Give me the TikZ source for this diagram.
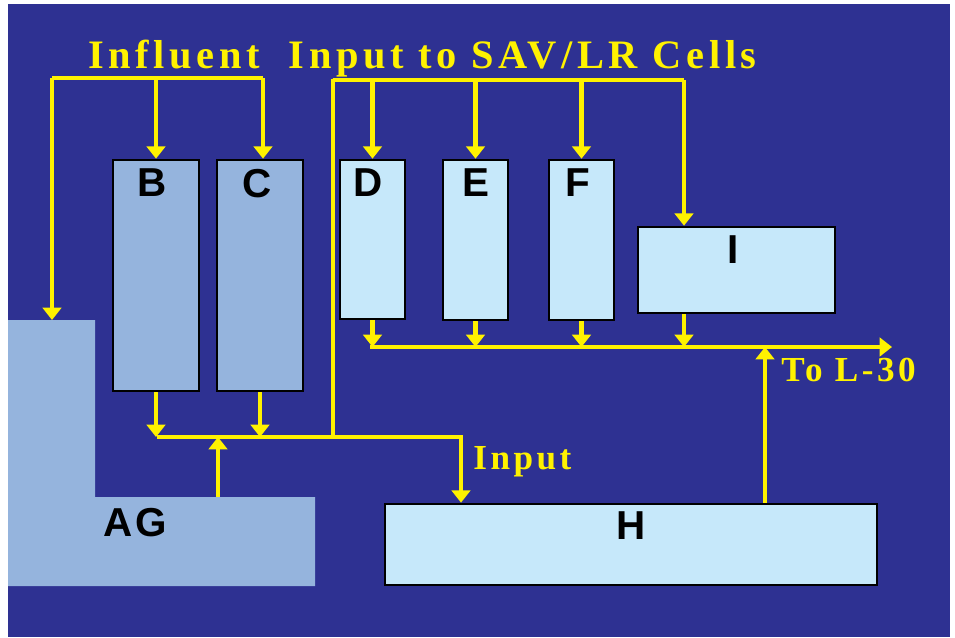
\documentclass[tikz,border=0pt]{standalone}
\usepackage{fontspec}
\usetikzlibrary{arrows.meta,positioning}
\newfontfamily\flowfont[LetterSpace=10]{Liberation Serif}
\newfontfamily\titlefont[LetterSpace=11.5]{Liberation Serif}
\newfontfamily\cellfont{Liberation Sans}
\definecolor{slide}{RGB}{46,49,146}
\definecolor{flowyellow}{RGB}{255,242,0}
\definecolor{cellmid}{RGB}{149,180,221}
\definecolor{celllight}{RGB}{198,232,250}

\begin{document}
\begin{tikzpicture}[x=0.02cm, y=-0.02cm,
  flow/.style={draw=flowyellow, line width=2.4pt},
  arr/.style={flow, -{Triangle[width=10.5pt,length=7pt]}},
  cell/.style={draw=black, line width=1.5pt, inner sep=0pt},
  cellname/.style={font=\cellfont\bfseries\fontsize{23}{26}\selectfont, inner sep=0pt},
  flowtext/.style={font=\flowfont\bfseries\fontsize{20}{24}\selectfont, text=flowyellow, inner sep=0pt}]
  \useasboundingbox (0,0) rectangle (955,637);
  \fill[slide] (8,4) rectangle (950,637);

  % AG basin
  \fill[cellmid] (8,320) -- (95,320) -- (95,497) -- (315,497) -- (315,586) -- (8,586) -- cycle;
  \node[cellname] (AG) at (135,523) {A\kern1.5pt G};

  % cells
  \node[cell, fill=cellmid, minimum width=1.72cm, minimum height=4.62cm] (B) at (156,275.5) {};
  \node[cell, fill=cellmid, minimum width=1.72cm, minimum height=4.62cm] (C) at (260,275.5) {};
  \node[cell, fill=celllight, minimum width=1.30cm, minimum height=3.18cm] (D) at (372.5,239.5) {};
  \node[cell, fill=celllight, minimum width=1.30cm, minimum height=3.20cm] (E) at (475.5,240) {};
  \node[cell, fill=celllight, minimum width=1.30cm, minimum height=3.20cm] (F) at (581.5,240) {};
  \node[cell, fill=celllight, minimum width=3.94cm, minimum height=1.72cm] (I) at (736.5,270) {};
  \node[cell, fill=celllight, minimum width=9.84cm, minimum height=1.62cm] (H) at (631,544.5) {};

  \node[cellname, below=0.2cm of B.north, xshift=-0.08cm] (nB) {B};
  \node[cellname, below=0.2cm of C.north, xshift=-0.06cm] (nC) {C};
  \node[cellname, below=0.2cm of D.north, xshift=-0.08cm] (nD) {D};
  \node[cellname, below=0.2cm of E.north] (nE) {E};
  \node[cellname, below=0.2cm of F.north, xshift=-0.08cm] (nF) {F};
  \node[cellname, below=0.2cm of I.north, xshift=-0.06cm] (nI) {I};
  \node[cellname, below=0.18cm of H.north] (nH) {H};

  % junction points
  \coordinate (inL) at (52,78);
  \coordinate (inR) at (263,78);
  \coordinate (top) at (333,79);
  \coordinate (low) at (333,437);
  \coordinate (sI) at (684,80);
  \coordinate (cb) at (370,347);
  \coordinate (out) at (892,347);
  \coordinate (rise) at (765,347);
  \coordinate (lb) at (157,437);
  \coordinate (hin) at (461,437);
  \coordinate (AGtop) at (52,320);
  \coordinate (AGstep) at (218,497);

  % influent to B, C and AG
  \draw[flow] (inL) -- (inR);
  \draw[arr] (inL) -- (AGtop);
  \draw[arr] (B.north |- inL) -- (B.north);
  \draw[arr] (inR) -- (inR |- C.north);

  % influent to D, E, F, I
  \draw[flow] (low) -- (top) -- (top |- sI) -- (sI);
  \draw[arr] (D.north |- sI) -- (D.north);
  \draw[arr] (E.north |- sI) -- (E.north);
  \draw[arr] (F.north |- sI) -- (F.north);
  \draw[arr] (sI) -- (sI |- I.north);

  % outflow to L-30
  \draw[arr] (cb) -- (out);
  \draw[arr] (D.south) -- (D.south |- cb);
  \draw[arr] (E.south) -- (E.south |- cb);
  \draw[arr] (F.south) -- (F.south |- cb);
  \draw[arr] (sI |- I.south) -- (sI |- cb);
  \draw[arr] (rise |- H.north) -- (rise);

  % B, C and AG to H
  \draw[arr] (lb) -- (hin) -- (hin |- H.north);
  \draw[arr] (B.south) -- (B.south |- lb);
  \draw[arr] (C.south) -- (C.south |- lb);
  \draw[arr] (AGstep) -- (AGstep |- lb);

  \node[flowtext, font=\titlefont\bfseries\fontsize{23}{26}\selectfont, anchor=base west] (title) at (88,68) {Influent\hspace{8pt} Input to SAV/LR Cells};
  \node[flowtext, anchor=base west] (input) at (473,469) {Input};
  \node[flowtext, anchor=base west] (toL) at (781,381) {To L-30};
\end{tikzpicture}
\end{document}
